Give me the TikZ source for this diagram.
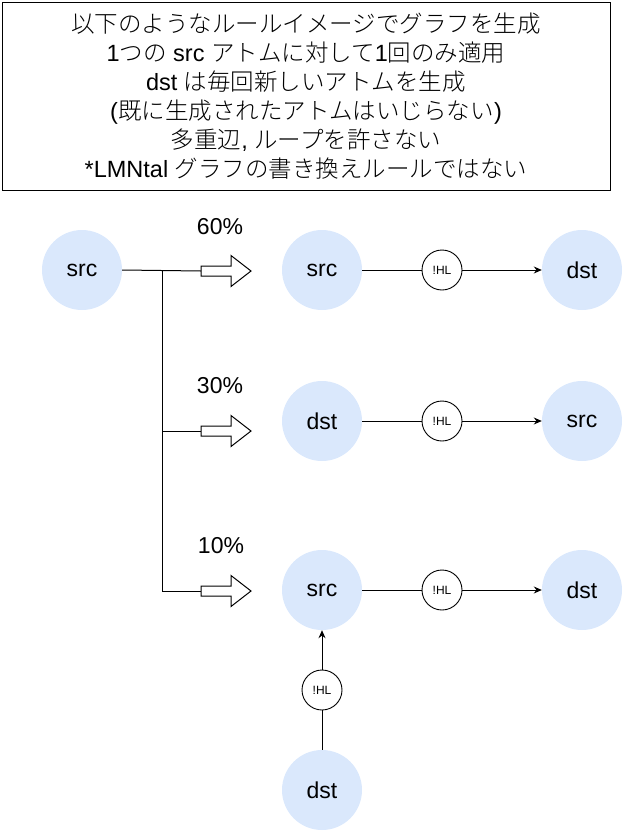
\documentclass[tikz,border=0pt]{standalone}
\usepackage{fontspec}
\setmainfont{Liberation Sans}
\newfontfamily\jp{Noto Sans CJK JP Light}
\usetikzlibrary{arrows.meta}
\definecolor{atomblue}{HTML}{DAE8FC}
\newcommand\hollowarrow[3]{%
  \coordinate (#3) at (#1,#2);
  \draw[fill=white, line width=1pt] (#3) ++(0,-5) -- ++(30,0) -- ++(0,-10.5) -- ++(20,15.5) -- ++(-20,15.5) -- ++(0,-10.5) -- ++(-30,0) -- cycle;}
\begin{document}
\begin{tikzpicture}[x=1pt,y=-1pt,
  atom/.style={circle, fill=atomblue, minimum size=80pt, inner sep=0pt, font=\fontsize{23}{27}\selectfont},
  hl/.style={circle, draw, fill=white, line width=0.9pt, minimum size=40pt, inner sep=0pt, font=\fontsize{12}{14}\selectfont},
  pct/.style={font=\fontsize{23}{27}\selectfont},
  link/.style={line width=1pt},
  linkarr/.style={line width=1pt, -{Stealth[length=8pt,width=7pt]}}]
\useasboundingbox (0,0) rectangle (623,833);
\node[draw, line width=1pt, minimum width=608pt, minimum height=188pt, align=center,
  font=\fontsize{23.5}{29}\selectfont] (title) at (306,96)
  {{\jp 以下のようなルールイメージでグラフを生成}\\
   1{\jp つの} src {\jp アトムに対して}1{\jp 回のみ適用}\\
   dst {\jp は毎回新しいアトムを生成}\\
   ({\jp 既に生成されたアトムはいじらない})\\
   {\jp 多重辺}, {\jp ループを許さない}\\
   *LMNtal {\jp グラフの書き換えルールではない}};

\node[atom] (src0) at (82,270) {src};

\node[atom] (s1) at (322,270) {src};
\node[hl] (h1) at (442,270) {!HL};
\node[atom] (d1) at (582,270) {dst};

\node[atom] (s2) at (322,421) {dst};
\node[hl] (h2) at (442,421) {!HL};
\node[atom] (d2) at (582,421) {src};

\node[atom] (s3) at (322,590) {src};
\node[hl] (h3) at (442,590) {!HL};
\node[atom] (d3) at (582,590) {dst};

\node[hl] (h4) at (322,690) {!HL};
\node[atom] (d4) at (322,790) {dst};

\node[pct] (p1) at (220,227) {60\%};
\node[pct] (p2) at (220,386) {30\%};
\node[pct] (p3) at (221,546) {10\%};

\hollowarrow{201}{271}{a1}
\hollowarrow{201}{431}{a2}
\hollowarrow{201}{591}{a3}
\coordinate (j) at (162,271);

\draw[link] (src0.east) -- (a1);
\draw[link] (j) |- (a2);
\draw[link] (j) |- (a3);

\draw[link] (s1) -- (h1);
\draw[linkarr] (h1) -- (d1);
\draw[link] (s2) -- (h2);
\draw[linkarr] (h2) -- (d2);
\draw[link] (s3) -- (h3);
\draw[linkarr] (h3) -- (d3);
\draw[link] (d4) -- (h4);
\draw[linkarr] (h4) -- (s3);
\end{tikzpicture}
\end{document}
